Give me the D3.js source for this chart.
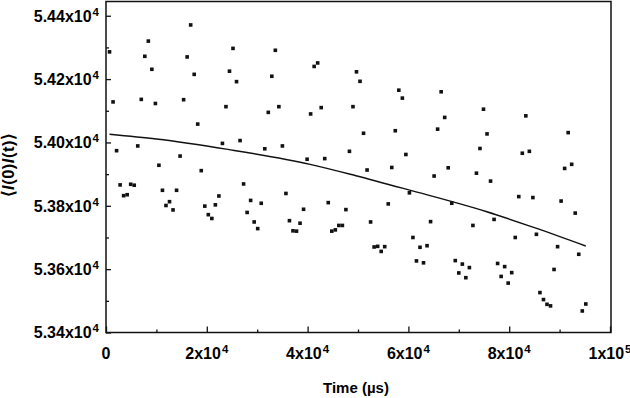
<!DOCTYPE html>
<html><head><meta charset="utf-8">
<script src="https://cdn.jsdelivr.net/npm/d3@7"></script>
<style>
html,body{margin:0;padding:0;background:#fff;}
svg{display:block;}
text{font-family:"Liberation Sans",Arial,Helvetica,sans-serif;font-weight:bold;fill:#000;}
</style></head>
<body>
<svg id="chart" width="630" height="398"></svg>
<script>
// ---- data (time in µs, correlation value) ----
const timeUs = [700,1400,2100,2800,3500,4200,4900,5600,6300,7000,7700,8400,9100,9800,10500,11200,11900,12600,13300,14000,
14700,15400,16100,16800,17500,18200,18900,19600,20300,21000,21700,22400,23100,23800,24500,25200,25900,26600,27300,28000,
28700,29400,30100,30800,31500,32200,32900,33600,34300,35000,35700,36400,37100,37800,38500,39200,39900,40600,41300,42000,
42700,43400,44100,44800,45500,46200,46900,47600,48300,49000,49700,50400,51100,51800,52500,53200,53900,54600,55300,56000,
56700,57400,58100,58800,59500,60200,60900,61600,62300,63000,63700,64400,65100,65800,66500,67200,67900,68600,69300,70000,
70700,71400,72100,72800,73500,74200,74900,75600,76300,77000,77700,78400,79100,79800,80500,81200,81900,82600,83300,84000,
84700,85400,86100,86800,87500,88200,88900,89600,90300,91000,91700,92400,93100,93800,94500,95200];
const corrValue = [54286,54128,53974,53866,53832,53835,53868,53865,53989,54136,54272,54320,54231,54123,53928,53849,53801,53813,53787,53849,
53957,54135,54270,54371,54215,54058,53911,53799,53772,53760,53803,53831,53997,54113,54225,54297,54192,54006,53869,53779,
53817,53749,53728,53808,53980,54095,54209,54291,54113,53989,53839,53753,53721,53720,53745,53789,53947,54090,54240,54251,
54110,53949,53810,53720,53724,53738,53738,53788,53972,54113,54223,54193,54029,53913,53749,53670,53672,53656,53671,53806,
53921,54037,54165,54140,53962,53841,53700,53626,53669,53620,53674,53750,53894,54042,54160,54079,53920,53808,53627,53588,
53616,53573,53605,53738,53903,53981,54105,54027,53878,53757,53618,53577,53608,53556,53589,53700,53829,53966,54084,53972,
53826,53710,53526,53504,53489,53484,53599,53671,53815,53918,54031,53931,53777,53647,53468,53490];
// fitted curve
const fitTime  = [700, 10000, 24200, 40500, 49600, 59900, 75400, 85000, 95200];
const fitValue = [54026, 54011, 53978, 53931, 53895, 53851, 53782, 53731, 53673];
// ticks
const xTickValues = [0, 20000, 40000, 60000, 80000, 100000];
const xTickMantissa = ["0", "2x10", "4x10", "6x10", "8x10", "1x10"];
const xTickExponent = ["", "4", "4", "4", "4", "5"];
const xMinorTicks = [10000, 30000, 50000, 70000, 90000];
const yTickValues = [53400, 53600, 53800, 54000, 54200, 54400];
const yTickMantissa = ["5.34x10", "5.36x10", "5.38x10", "5.40x10", "5.42x10", "5.44x10"];
const yTickExponent = ["4", "4", "4", "4", "4", "4"];
const yMinorTicks = [53500, 53700, 53900, 54100, 54300];
const xTitle = "Time (µs)";

// ---- layout ----
const L = 106, R = 610, T = 1.5, B = 332.5;
const svg = d3.select("#chart");
const x = d3.scaleLinear().domain([0, 100000]).range([L, R]);
const y = d3.scaleLinear().domain([53400, 54445]).range([B, T]);

// frame
svg.append("rect").attr("x", L).attr("y", T).attr("width", R - L + 1).attr("height", B - T)
  .attr("fill", "none").attr("stroke", "#111").attr("stroke-width", 1.5);

// axes ticks (inward)
const xAxis = d3.axisBottom(x).tickValues(xTickValues).tickSize(-6).tickFormat("");
const xMinor = d3.axisBottom(x).tickValues(xMinorTicks).tickSize(-3).tickFormat("");
const yAxis = d3.axisLeft(y).tickValues(yTickValues).tickSize(-5).tickFormat("");
const yMinor = d3.axisLeft(y).tickValues(yMinorTicks).tickSize(-3).tickFormat("");
[[xAxis, `translate(0,${B})`], [xMinor, `translate(0,${B})`], [yAxis, `translate(${L},0)`], [yMinor, `translate(${L},0)`]]
  .forEach(([ax, tr]) => {
    const g = svg.append("g").attr("transform", tr).call(ax);
    g.select(".domain").remove();
    g.selectAll("line").attr("stroke", "#111").attr("stroke-width", 1.3);
  });

// y tick labels
yTickValues.forEach((v, i) => {
  const t = svg.append("text").attr("x", 99).attr("y", y(v) + 5.8)
    .attr("text-anchor", "end").style("font-size", "16px");
  t.append("tspan").text(yTickMantissa[i]);
  t.append("tspan").attr("dy", -6).attr("dx", 1).style("font-size", "11.5px").text(yTickExponent[i]);
});
// x tick labels
xTickValues.forEach((v, i) => {
  const t = svg.append("text").attr("x", x(v)).attr("y", 359)
    .attr("text-anchor", "middle").style("font-size", "16px");
  t.append("tspan").text(xTickMantissa[i]);
  if (xTickExponent[i]) t.append("tspan").attr("dy", -6).attr("dx", 1).style("font-size", "11.5px").text(xTickExponent[i]);
});

// axis titles
svg.append("text").attr("x", 356).attr("y", 393).attr("text-anchor", "middle")
  .style("font-size", "15px").text(xTitle);
const yt = svg.append("text").attr("transform", "translate(14,165) rotate(-90)")
  .attr("text-anchor", "middle").style("font-size", "16.5px").style("letter-spacing", "0.5px");
yt.append("tspan").text("\u27E8");
yt.append("tspan").style("font-style", "italic").text("I");
yt.append("tspan").text("(0)");
yt.append("tspan").style("font-style", "italic").text("I");
yt.append("tspan").text("(t)\u27E9");

// fitted curve
const line = d3.line().x(d => x(d[0])).y(d => y(d[1])).curve(d3.curveMonotoneX);
svg.append("path").datum(fitTime.map((t, i) => [t, fitValue[i]]))
  .attr("d", line).attr("fill", "none").attr("stroke", "#111").attr("stroke-width", 1.4);

// data points
const s = 3.6;
svg.append("g").selectAll("rect").data(timeUs.map((t, i) => [t, corrValue[i]])).join("rect")
  .attr("x", d => x(d[0]) - s / 2).attr("y", d => y(d[1]) - s / 2)
  .attr("width", s).attr("height", s).attr("fill", "#111");
</script>
</body></html>
